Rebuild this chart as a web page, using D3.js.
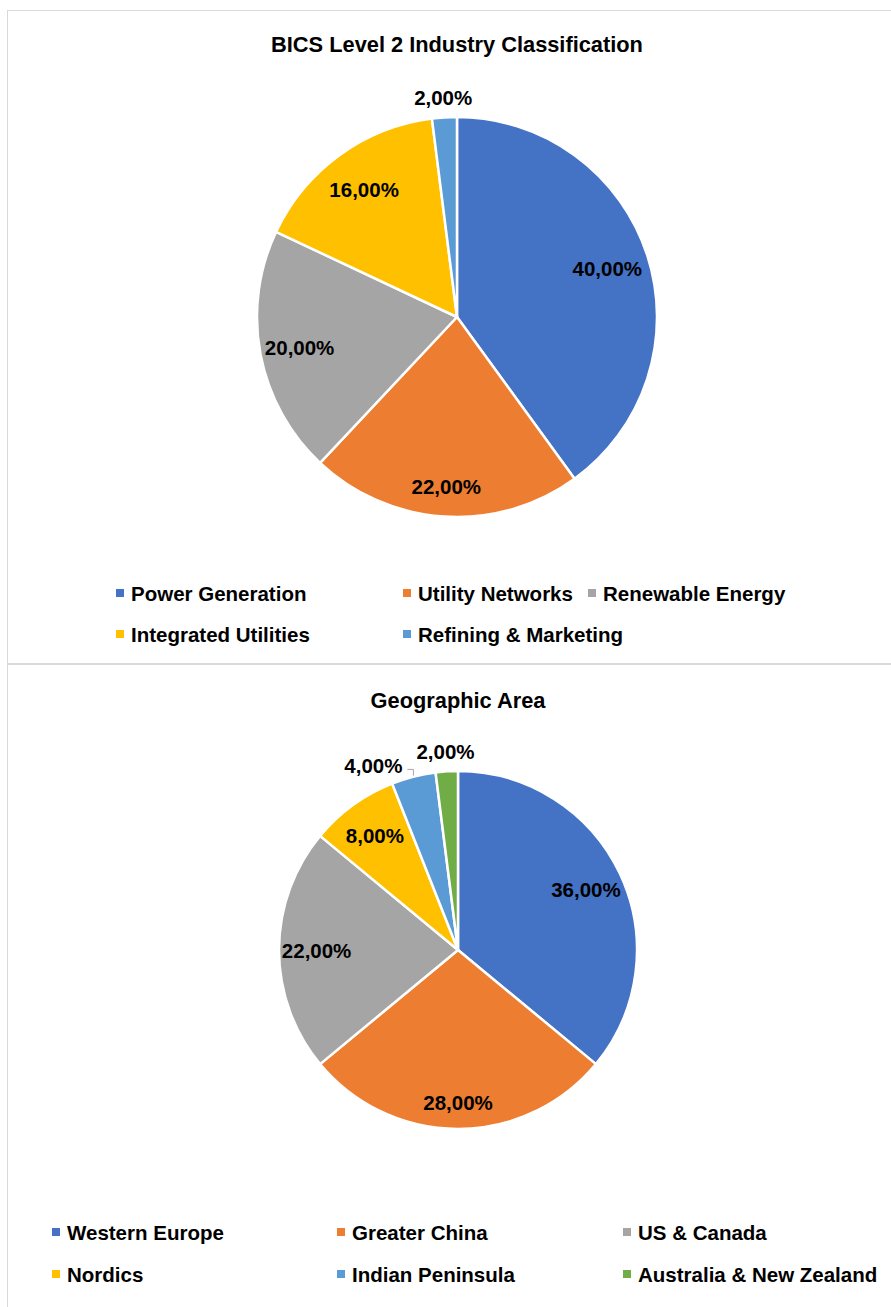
<!DOCTYPE html>
<html>
<head>
<meta charset="utf-8">
<script src="https://cdn.jsdelivr.net/npm/d3@7"></script>
<style>
  html, body { margin: 0; padding: 0; background: #ffffff; }
  svg { display: block; }
</style>
</head>
<body>
<svg id="chart" width="891" height="1307"></svg>
<script>
// Industry breakdown (share of holdings, %)
const industryCategories = ["Power Generation", "Utility Networks", "Renewable Energy", "Integrated Utilities", "Refining & Marketing"];
const industryValues = [40, 22, 20, 16, 2];

// Geographic breakdown (share of holdings, %)
const regionCategories = ["Western Europe", "Greater China", "US & Canada", "Nordics", "Indian Peninsula", "Australia & New Zealand"];
const regionValues = [36, 28, 22, 8, 4, 2];

const palette = ["#4472C4", "#ED7D31", "#A5A5A5", "#FFC000", "#5B9BD5", "#70AD47"];

const svg = d3.select("#chart");
const fmt = v => d3.format(".2f")(v).replace(".", ",") + "%";

const font = "'Liberation Sans', Arial, sans-serif";
const labelSize = 20.5;

// Panel frames
svg.append("rect").attr("x", 7.5).attr("y", 10.5).attr("width", 900).attr("height", 653)
  .attr("fill", "none").attr("stroke", "#d9d9d9").attr("stroke-width", 1);
svg.append("rect").attr("x", 7.5).attr("y", 664.5).attr("width", 900).attr("height", 700)
  .attr("fill", "none").attr("stroke", "#d9d9d9").attr("stroke-width", 1);

function drawPie(opts) {
  const { title, titleY, cx, cy, r, categories, values, legend } = opts;
  const g = svg.append("g");

  g.append("text")
    .attr("x", cx).attr("y", titleY)
    .attr("text-anchor", "middle")
    .attr("dominant-baseline", "central")
    .attr("font-family", font).attr("font-weight", "bold")
    .attr("font-size", 21.8).attr("fill", "#000")
    .text(title);

  const data = categories.map((c, i) => ({ name: c, value: values[i], color: palette[i] }));
  const pie = d3.pie().value(d => d.value).sort(null);
  const arcs = pie(data);
  const arc = d3.arc().innerRadius(0).outerRadius(r);
  const outerArc = d3.arc().innerRadius(r + 20).outerRadius(r + 20);

  // Inside labels sit a little deeper toward the rim for slices facing downward
  const insidePos = d => {
    const a = (d.startAngle + d.endAngle) / 2;
    const k = 0.79 + 0.06 * Math.max(0, Math.cos(a - Math.PI));
    return [Math.sin(a) * r * k, -Math.cos(a) * r * k];
  };

  const pg = g.append("g").attr("transform", `translate(${cx},${cy})`);
  pg.selectAll("path.slice").data(arcs).join("path")
    .attr("class", "slice")
    .attr("d", arc)
    .attr("fill", d => d.data.color)
    .attr("stroke", "#ffffff").attr("stroke-width", 2.5).attr("stroke-linejoin", "round");

  const inside = arcs.filter(d => d.data.value >= 5);
  const outside = arcs.filter(d => d.data.value < 5).reverse();

  pg.selectAll("text.inlabel").data(inside).join("text")
    .attr("class", "inlabel")
    .attr("transform", d => `translate(${insidePos(d)})`)
    .attr("text-anchor", "middle").attr("dominant-baseline", "central")
    .attr("font-family", font).attr("font-weight", "bold")
    .attr("font-size", labelSize).attr("fill", "#000")
    .text(d => fmt(d.data.value));

  // Thin slices get their labels outside; a crowded one is pushed left with a leader line
  const placed = [];
  outside.forEach(d => {
    let [x, y] = outerArc.centroid(d);
    const t = pg.append("text")
      .attr("text-anchor", "middle").attr("dominant-baseline", "central")
      .attr("font-family", font).attr("font-weight", "bold")
      .attr("font-size", labelSize).attr("fill", "#000")
      .text(fmt(d.data.value));
    const w = t.node().getComputedTextLength();
    const h = 22;
    let moved = false;
    placed.forEach(p => {
      if (x + w / 2 > p.x - p.w / 2 && x - w / 2 < p.x + p.w / 2 && Math.abs(y - p.y) < h) {
        x = p.x - p.w / 2 - 14 - w / 2;
        y = p.y + 14;
        moved = true;
      }
    });
    t.attr("x", x).attr("y", y);
    placed.push({ x, y, w });
    if (moved) {
      const sx = x + w / 2 + 5;
      const lx = sx + 6;
      const ly = y + 4;
      const ey = -Math.sqrt(r * r - lx * lx) - 1;
      pg.append("polyline")
        .attr("points", `${sx},${ly} ${lx},${ly} ${lx},${ey}`)
        .attr("fill", "none").attr("stroke", "#a6a6a6").attr("stroke-width", 1);
    }
  });

  // Legend
  const lg = g.append("g");
  data.forEach((d, i) => {
    const col = legend.cols[i % legend.cols.length];
    const row = Math.floor(i / legend.cols.length);
    const y = legend.rows[row];
    lg.append("rect").attr("x", col).attr("y", y - 4).attr("width", 8).attr("height", 8).attr("fill", d.color);
    lg.append("text")
      .attr("x", col + 15).attr("y", y)
      .attr("dominant-baseline", "central")
      .attr("font-family", font).attr("font-weight", "bold")
      .attr("font-size", 20.5).attr("fill", "#000")
      .text(d.name);
  });
}

drawPie({
  title: "BICS Level 2 Industry Classification",
  titleY: 44, cx: 457, cy: 317, r: 200,
  categories: industryCategories, values: industryValues,
  legend: { cols: [116, 403, 588], rows: [593, 634] }
});

drawPie({
  title: "Geographic Area",
  titleY: 700, cx: 458, cy: 950, r: 179,
  categories: regionCategories, values: regionValues,
  legend: { cols: [52, 337, 623], rows: [1232, 1274] }
});
</script>
</body>
</html>
